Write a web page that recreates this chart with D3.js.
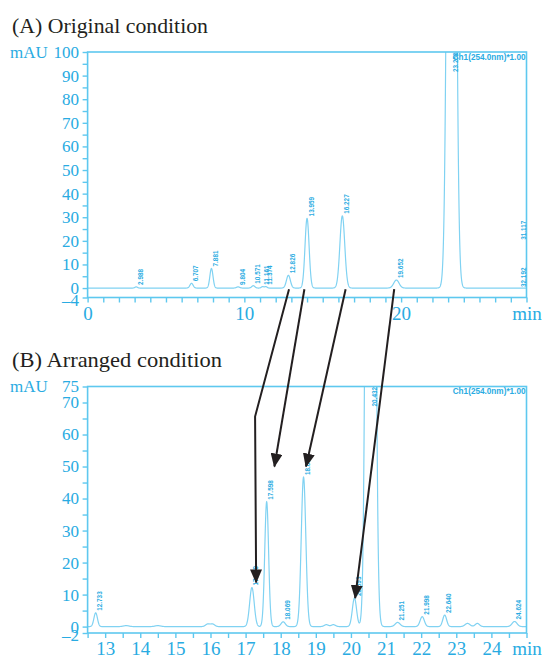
<!DOCTYPE html>
<html lang="en">
<head>
<meta charset="UTF-8">
<title>Chromatograms</title>
<script src="https://d3js.org/d3.v7.min.js"></script>
<style>
  body { margin: 0; background: #fff; }
  svg { display: block; }
</style>
</head>
<body>
<svg width="542" height="659"></svg>
<script>
// (A) original condition: retention time (min), height (mAU), peak width sigma (min), printed label
var rtA     = [3.1, 6.63, 7.9, 9.6, 10.57, 11.16, 11.37, 12.81, 14.0, 16.25, 19.7, 23.22];
var heightA = [0.5, 2.0, 8.3, 0.5, 1.0, 0.6, 0.6, 5.4, 29.5, 30.6, 3.4, 575];
var sigmaA  = [0.08, 0.1, 0.1, 0.1, 0.1, 0.08, 0.08, 0.125, 0.13, 0.155, 0.17, 0.2];
var labelA  = ["2.988", "6.707", "7.881", "9.804", "10.571", "11.161", "11.374",
               "12.826", "13.959", "16.227", "19.652", "23.250"];
// peaks past the end of the window, printed at the right edge
var edgeLabelA = ["31.117", "32.192"];
var edgeValueA = [20, 0];

// (B) arranged condition
var rtB     = [12.73, 13.6, 14.5, 15.92, 16.06, 17.18, 17.6, 18.07, 18.65, 19.3, 19.5,
               20.1, 20.56, 21.33, 22.03, 22.67, 23.32, 23.6, 24.66];
var heightB = [4.3, 0.3, 0.3, 0.8, 0.8, 12.2, 39, 1.5, 46.7, 0.6, 0.6,
               8.9, 650, 1.3, 3.1, 3.6, 1.0, 1.0, 1.6];
var sigmaB  = [0.05, 0.08, 0.08, 0.06, 0.06, 0.065, 0.055, 0.06, 0.065, 0.06, 0.06,
               0.06, 0.085, 0.07, 0.06, 0.055, 0.07, 0.06, 0.07];
var labelB  = ["12.733", "", "", "", "", "17.179", "17.598", "18.069", "18.652", "", "",
               "20.093", "20.432", "21.251", "21.998", "22.640", "", "", "24.624"];

// axis ticks
var xTicksA = d3.range(0, 29, 1);
var xLabelsA = [0, 10, 20];
var yTicksA = [-4].concat(d3.range(0, 101, 5));
var yLabelsA = [-4, 0, 10, 20, 30, 40, 50, 60, 70, 80, 90, 100];

var xTicksB = d3.range(12.5, 25.01, 0.5);
var xLabelsB = [13, 14, 15, 16, 17, 18, 19, 20, 21, 22, 23, 24];
var yTicksB = [-2].concat(d3.range(0, 76, 5));
var yLabelsB = [-2, 0, 10, 20, 30, 40, 50, 60, 70, 75];

// arrows: start on trace A (rt), end on trace B (rt, mAU)
var arrowFromRt  = [12.85, 13.83, 16.46, 19.56];
var arrowToRt    = [17.3, 17.82, 18.72, 20.12];
var arrowToValue = [13.8, 50, 50, 8.9];
var arrowBendRt    = [17.27, null, null, null];
var arrowBendValue = [65.6, null, null, null];

var textBlue = "#29abe2";
var lineBlue = "#5ec8ef";
var traceBlue = "#80d2f2";

var svg = d3.select("svg");

var xA = d3.scaleLinear().domain([0, 28]).range([87.6, 526.5]);
var yA = d3.scaleLinear().domain([-4, 100]).range([297.5, 52]);
var xB = d3.scaleLinear().domain([12.5, 25]).range([87.6, 526.5]);
var yB = d3.scaleLinear().domain([-2, 75]).range([633, 386.5]);

function signal(t, rts, hs, ss) {
    var s = 0;
    for (var i = 0; i < rts.length; i++) {
        var z = (t - rts[i]) / ss[i];
        s += hs[i] * Math.exp(-0.5 * z * z);
    }
    return s;
}

function fmtMinus(v) { return v < 0 ? "\u2013" + Math.abs(v) : String(v); }

function drawPanel(id, title, titleY, titleLen, x, y, xTicks, xLabels, yTicks, yLabels,
                   rts, hs, ss, labels, step) {
    var g = svg.append("g");
    var x0 = x.range()[0], x1 = x.range()[1];
    var yTop = y.range()[1], yBot = y.range()[0];
    var xMax = x.domain()[1], yMin = y.domain()[0];

    g.append("text")
        .attr("x", 12).attr("y", titleY)
        .attr("textLength", titleLen)
        .attr("lengthAdjust", "spacingAndGlyphs")
        .style("font", "21px 'Liberation Serif', serif")
        .attr("fill", "#231f20")
        .text(title);

    g.append("clipPath").attr("id", "clip" + id)
        .append("rect")
        .attr("x", x0).attr("y", yTop)
        .attr("width", x1 - x0).attr("height", yBot - yTop);

    // trace
    var ts = d3.range(x.domain()[0], xMax + step / 2, step);
    var line = d3.line()
        .x(function (t) { return x(t); })
        .y(function (t) { return y(signal(t, rts, hs, ss)); });
    g.append("path")
        .attr("clip-path", "url(#clip" + id + ")")
        .attr("d", line(ts))
        .attr("fill", "none")
        .attr("stroke", traceBlue)
        .attr("stroke-width", 1.2);

    // frame
    g.append("rect")
        .attr("x", x0).attr("y", yTop)
        .attr("width", x1 - x0).attr("height", yBot - yTop)
        .attr("fill", "none")
        .attr("stroke", lineBlue)
        .attr("stroke-width", 1.6);

    var xAxis = d3.axisBottom(x)
        .tickValues(xTicks)
        .tickSize(5)
        .tickPadding(4)
        .tickFormat(function (v) {
            if (Math.abs(v - xMax) < 1e-6) return "min";
            return xLabels.indexOf(v) >= 0 ? v : "";
        });
    var gx = g.append("g").attr("transform", "translate(0," + yBot + ")").call(xAxis);

    var yAxis = d3.axisLeft(y)
        .tickValues(yTicks)
        .tickSize(5)
        .tickPadding(3.5)
        .tickFormat(function (v) { return yLabels.indexOf(v) >= 0 ? fmtMinus(v) : ""; });
    var gy = g.append("g").attr("transform", "translate(" + x0 + ",0)").call(yAxis);

    [gx, gy].forEach(function (a) {
        a.select(".domain").remove();
        a.selectAll(".tick line").attr("stroke", lineBlue).attr("stroke-width", 1.4);
        a.selectAll("text").attr("fill", textBlue);
    });
    gx.selectAll("text").style("font", "19px 'Liberation Serif', serif");
    gy.selectAll("text").style("font", "17px 'Liberation Serif', serif");
    // the negative end label sits just under 0, nudge it down a little
    gy.selectAll(".tick").filter(function (v) { return v === yMin; })
        .select("text").attr("dy", "0.45em");

    g.append("text")
        .attr("x", 10).attr("y", y(y.domain()[1]) + 5.5)
        .style("font", "17px 'Liberation Serif', serif")
        .attr("fill", textBlue)
        .text("mAU");

    g.append("text")
        .attr("x", x1 - 1).attr("y", yTop + 7.5)
        .attr("text-anchor", "end")
        .style("font", "bold 8.2px 'Liberation Sans', sans-serif")
        .attr("fill", textBlue)
        .text("Ch1(254.0nm)*1.00");

    // peak labels
    var peaks = rts.map(function (r, i) { return { rt: r, h: hs[i], label: labels[i] }; })
        .filter(function (d) { return d.label !== ""; });
    g.selectAll(".plab").data(peaks).enter()
        .append("text")
        .attr("class", "plab")
        .attr("transform", function (d) {
            var py = Math.max(y(Math.min(d.h, y.domain()[1])) - 2, yTop + 20);
            return "translate(" + (x(d.rt) + 6.5) + "," + py + ") rotate(-90)";
        })
        .style("font", "bold 6.4px 'Liberation Sans', sans-serif")
        .attr("fill", textBlue)
        .text(function (d) { return d.label; });
    return g;
}

drawPanel("A", "(A) Original condition", 33, 196, xA, yA, xTicksA, xLabelsA, yTicksA, yLabelsA,
          rtA, heightA, sigmaA, labelA, 0.005);
drawPanel("B", "(B) Arranged condition", 367, 210, xB, yB, xTicksB, xLabelsB, yTicksB, yLabelsB,
          rtB, heightB, sigmaB, labelB, 0.002);

// labels of peaks beyond 28 min
svg.selectAll(".edge").data(edgeLabelA).enter()
    .append("text")
    .attr("transform", function (d, i) {
        return "translate(" + (xA(28) - 0.5) + "," + (yA(edgeValueA[i]) - 1) + ") rotate(-90)";
    })
    .style("font", "bold 6.4px 'Liberation Sans', sans-serif")
    .attr("fill", textBlue)
    .text(function (d) { return d; });

// arrows
svg.append("defs").append("marker")
    .attr("id", "head")
    .attr("markerUnits", "userSpaceOnUse")
    .attr("viewBox", "0 0 14 12")
    .attr("markerWidth", 14).attr("markerHeight", 12)
    .attr("refX", 13).attr("refY", 6)
    .attr("orient", "auto")
    .append("path")
    .attr("d", "M0,0 L14,6 L0,12 Z")
    .attr("fill", "#231f20");

arrowFromRt.forEach(function (r, i) {
    var pts = [[xA(r), yA(-0.5)]];
    if (arrowBendRt[i] !== null) pts.push([xB(arrowBendRt[i]), yB(arrowBendValue[i])]);
    pts.push([xB(arrowToRt[i]), yB(arrowToValue[i])]);
    svg.append("path")
        .attr("d", d3.line()(pts))
        .attr("fill", "none")
        .attr("stroke", "#231f20")
        .attr("stroke-width", 2)
        .attr("marker-end", "url(#head)");
});
</script>
</body>
</html>
